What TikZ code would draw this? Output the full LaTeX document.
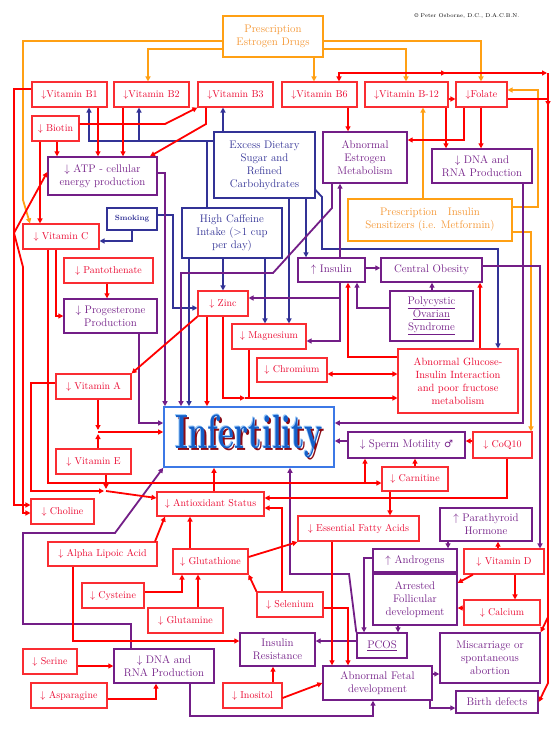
\documentclass[tikz,border=0pt]{standalone}
\usepackage{fontspec}
\newfontfamily\dejavu{DejaVu Sans}
\usepackage{graphicx}
\usetikzlibrary{arrows.meta}
\definecolor{rline}{RGB}{255,0,0}
\definecolor{rbord}{RGB}{250,45,50}
\definecolor{rtext}{RGB}{235,10,50}
\definecolor{purp}{RGB}{115,30,135}
\definecolor{blu}{RGB}{50,50,150}
\definecolor{org}{RGB}{255,160,20}
\definecolor{otext}{RGB}{245,150,50}
\definecolor{infb}{RGB}{60,120,230}
\definecolor{infd}{RGB}{140,10,20}
\definecolor{infl}{RGB}{150,200,250}
\definecolor{infm}{RGB}{20,95,200}
\newcommand\bx[7]{\node[#6,minimum width={#4pt-#2pt},minimum height={#5pt-#3pt}] (#1) at ({(#2+#4)/2},{(#3+#5)/2}) {#7};}
\newcommand\dn{$\downarrow$}
\newcommand\upa{$\uparrow$}
\newcommand\infword{\scalebox{1}[1.55]{Infertility}}
\begin{document}
\begin{tikzpicture}[x=1pt,y=-1pt,>={Triangle[length=5pt,width=5pt]},
 box/.style={inner sep=0pt,align=center,fill=white},
 rbox/.style={box,draw=rbord,line width=1.1pt,text=rtext,font=\fontsize{10}{12}\selectfont},
 pbox/.style={box,draw=purp,line width=1.4pt,text=purp,font=\fontsize{11}{13}\selectfont},
 bbox/.style={box,draw=blu,line width=1.1pt,text=blu,font=\fontsize{11}{13}\selectfont},
 obox/.style={box,draw=org,line width=1.4pt,text=otext,font=\fontsize{11}{13}\selectfont},
 rl/.style={draw=rline,line width=1.8pt},
 pl/.style={draw=purp,line width=1.8pt},
 bl/.style={draw=blu,line width=1.8pt},
 ol/.style={draw=org,line width=1.8pt}]
\useasboundingbox[fill=white] (0,0) rectangle (559,729);
% ---------- nodes ----------
\node[font=\fontsize{5.5}{6}\selectfont] (copy) at (467,16) {\textcopyright\ Peter Osborne, D.C., D.A.C.B.N.};
\bx{ped}{223}{16}{323}{57}{obox}{Prescription\\Estrogen Drugs}
\bx{b1}{32}{82}{107}{107}{rbox}{\dn Vitamin B1}
\bx{b2}{114}{82}{189}{107}{rbox}{\dn Vitamin B2}
\bx{b3}{198}{82}{273}{107}{rbox}{\dn Vitamin B3}
\bx{b6}{282}{82}{357}{107}{rbox}{\dn Vitamin B6}
\bx{b12}{365}{82}{448}{107}{rbox}{\dn Vitamin B-12}
\bx{fol}{456}{82}{507}{107}{rbox}{\dn Folate}
\bx{bio}{32}{116}{79}{141}{rbox}{\dn\ Biotin}
\bx{atp}{48}{157}{157}{195}{pbox}{\dn\ ATP - cellular\\energy production}
\bx{sug}{214}{132}{315}{198}{bbox}{Excess Dietary\\Sugar and\\Refined\\Carbohydrates}
\bx{aem}{323}{132}{407}{183}{pbox}{Abnormal\\Estrogen\\Metabolism}
\bx{dna1}{432}{149}{532}{183}{pbox}{\dn\ DNA and\\RNA Production}
\bx{smk}{107}{208}{157}{230}{bbox,font=\bfseries\fontsize{7.5}{9}\selectfont}{Smoking}
\bx{vc}{23}{224}{99}{249}{rbox}{\dn\ Vitamin C}
\bx{caf}{182}{208}{282}{258}{bbox}{High Caffeine\\Intake (>1 cup\\per day)}
\bx{met}{348}{199}{512}{241}{obox}{Prescription\ \ \ Insulin\\Sensitizers (i.e. Metformin)}
\bx{pan}{64}{258}{153}{283}{rbox}{\dn\ Pantothenate}
\bx{pro}{64}{299}{157}{333}{pbox}{\dn\ Progesterone\\Production}
\bx{ins}{298}{258}{365}{282}{pbox}{\upa\ Insulin}
\bx{cob}{381}{258}{482}{282}{pbox}{Central Obesity}
\bx{poly}{390}{291}{473}{341}{pbox}{\underline{Polycystic}\\\underline{Ovarian}\\\underline{Syndrome}}
\bx{zn}{198}{291}{248}{316}{rbox}{\dn\ Zinc}
\bx{mg}{232}{324}{306}{349}{rbox}{\dn\ Magnesium}
\bx{cr}{257}{358}{327}{382}{rbox}{\dn\ Chromium}
\bx{agi}{398}{349}{518}{413}{rbox,font=\fontsize{10.5}{13}\selectfont}{Abnormal Glucose-\\Insulin Interaction\\and poor fructose\\metabolism}
\bx{va}{56}{374}{131}{399}{rbox}{\dn\ Vitamin A}
\bx{inf}{164}{407}{334}{467}{box,draw=infb,line width=1.6pt,font=\bfseries\fontsize{31}{31}\selectfont}{%
\rlap{\hspace{2pt}\raisebox{-2pt}{\color{infd}\infword}}%
\rlap{\hspace{-0.8pt}\raisebox{0.8pt}{\color{infl}\infword}}%
{\color{infm}\infword}}
\bx{ve}{56}{449}{131}{474}{rbox}{\dn\ Vitamin E}
\bx{spm}{348}{432}{465}{458}{pbox}{\dn\ Sperm Motility {\dejavu\fontsize{10}{12}\selectfont ♂}}
\bx{coq}{473}{432}{532}{458}{rbox}{\dn\ CoQ10}
\bx{car}{382}{467}{448}{491}{rbox}{\dn\ Carnitine}
\bx{cho}{31}{499}{94}{524}{rbox}{\dn\ Choline}
\bx{aox}{157}{492}{264}{516}{rbox}{\dn\ Antioxidant Status}
\bx{efa}{298}{516}{419}{541}{rbox}{\dn\ Essential Fatty Acids}
\bx{pth}{440}{508}{532}{541}{pbox}{\upa\ Parathyroid\\Hormone}
\bx{ala}{48}{542}{157}{566}{rbox}{\dn\ Alpha Lipoic Acid}
\bx{glu}{173}{549}{248}{574}{rbox}{\dn\ Glutathione}
\bx{andr}{373}{549}{457}{572}{pbox}{\upa\ Androgens}
\bx{vd}{464}{549}{544}{574}{rbox}{\dn\ Vitamin D}
\bx{af}{373}{574}{457}{625}{pbox}{Arrested\\Follicular\\development}
\bx{cys}{82}{583}{144}{608}{rbox}{\dn\ Cysteine}
\bx{sel}{257}{592}{323}{617}{rbox}{\dn\ Selenium}
\bx{gln}{148}{608}{223}{633}{rbox}{\dn\ Glutamine}
\bx{ca}{464}{600}{540}{625}{rbox}{\dn\ Calcium}
\bx{ir}{240}{633}{315}{666}{pbox}{Insulin\\Resistance}
\bx{pcos}{357}{633}{407}{658}{pbox}{\underline{PCOS}}
\bx{mis}{440}{633}{540}{683}{pbox}{Miscarriage or\\spontaneous\\abortion}
\bx{ser}{23}{649}{77}{674}{rbox}{\dn\ Serine}
\bx{dna2}{114}{649}{214}{683}{pbox}{\dn\ DNA and\\RNA Production}
\bx{afd}{323}{666}{432}{700}{pbox}{Abnormal Fetal\\development}
\bx{asp}{31}{683}{107}{708}{rbox}{\dn\ Asparagine}
\bx{ino}{223}{683}{282}{708}{rbox}{\dn\ Inositol}
\bx{bd}{456}{691}{538}{713}{pbox}{Birth defects}
% ---------- orange ----------
\draw[ol,->] (ped.west|-0,41) -- (23,41) -- (23,200) -- (30,0|-vc.north);
\draw[ol,->] (ped.west|-0,49) -- (148,49) -- (148,0|-b2.north);
\draw[ol,->] (314,0|-ped.south) -- (314,0|-b6.north);
\draw[ol,->] (ped.east|-0,49) -- (406,49) -- (406,0|-b12.north);
\draw[ol,->] (ped.east|-0,41) -- (481,41) -- (481,0|-fol.north);
\draw[ol,->] (423,0|-met.north) -- (423,0|-b12.south);
\draw[ol,->] (met.east|-0,207) -- (538,207) -- (538,90) -- (fol.east|-0,90);
\draw[ol,->] (met.east|-0,232) -- (531,232) -- (531,0|-coq.north);
% ---------- red top ----------
\draw[rl,<-] (339,0|-b6.north) -- (339,73) -- (444,73);
\draw[rl,->] (444,73) -- (446,73);
\draw[rl,->] (444,73) -- (547,73);
\draw[rl,->] (548,73) -- (548,617) -- (mis.north east);
\draw[rl,->] (548,617) -- (548,683) -- (bd.east);
\draw[rl,->] (fol.east|-0,99) -- (548,99) -- (548,106);
\draw[rl,->] (b12.east|-0,99) -- (fol.west|-0,99);
\draw[rl,->] (464,0|-fol.south) -- (464,140) -- (aem.east|-0,140);
\draw[rl,->] (446,0|-b12.south) -- (446,0|-dna1.north);
\draw[rl,->] (481,0|-fol.south) -- (481,0|-dna1.north);
\draw[rl,->] (348,0|-b6.south) -- (348,0|-aem.north);
% ---------- blue ----------
\draw[bl,->] (223,0|-sug.north) -- (223,0|-b3.south);
\draw[bl] (207,0|-caf.north) -- (207,141);
\draw[bl,->] (sug.west|-0,141) -- (89,141) -- (89,0|-b1.south);
\draw[bl,->] (139,141) -- (139,0|-b2.south);
\draw[bl,->] (306,0|-sug.south) -- (306,0|-ins.north);
\draw[bl,->] (289,0|-sug.south) -- (289,0|-mg.north);
\draw[bl,->] (sug.east|-0,190) -- (322,197) -- (322,249) -- (498,249) -- (498,0|-agi.north);
\draw[bl,->] (223,0|-caf.south) -- (223,0|-zn.north);
\draw[bl,->] (265,0|-caf.south) -- (265,0|-mg.north);
\draw[bl,->] (189,0|-caf.south) -- (189,0|-inf.north);
\draw[bl,->] (smk.east|-0,215) -- (173,215) -- (173,308) -- (zn.west|-0,308);
\draw[bl,->] (132,0|-smk.south) -- (132,241) -- (vc.east|-0,241);
% ---------- purple ----------
\draw[pl,->] (atp.east|-0,173) -- (165,173) -- (165,0|-inf.north);
\draw[pl,->] (332,0|-aem.south) -- (332,208) -- (273,273) -- (181,273) -- (181,0|-inf.north);
\draw[pl,->] (340,0|-ins.north) -- (340,0|-aem.south);
\draw[pl,->] (ins.east|-0,268) -- (cob.west|-0,268);
\draw[pl,->] (432,0|-poly.north) -- (432,0|-cob.south);
\draw[pl,->] (poly.west|-0,308) -- (357,308) -- (357,0|-ins.south);
\draw[pl,->] (340,0|-ins.south) -- (340,341) -- (mg.east|-0,341);
\draw[pl,->] (340,298) -- (zn.east|-0,298);
\draw[pl,->] (523,0|-dna1.south) -- (523,423) -- (inf.east|-0,423);
\draw[pl,->] (cob.east|-0,266) -- (540,266) -- (540,0|-vd.north);
\draw[pl,->] (spm.west|-0,441) -- (inf.east|-0,441);
\draw[pl,->] (139,0|-pro.south) -- (139,423) -- (inf.west|-0,423);
\draw[pl,->] (131,0|-dna2.north) -- (131,624) -- (23,624) -- (23,533) -- (115,533) -- (inf.south west);
\draw[pl,->] (pcos.north west) -- (349,574) -- (290,574) -- (290,0|-inf.south);
\draw[pl,->] (andr.west|-0,558) -- (364,558) -- (364,0|-pcos.north);
\draw[pl,->] (398,0|-af.south) -- (398,0|-pcos.north);
\draw[pl,->] (pcos.west|-0,641) -- (ir.east|-0,641);
\draw[pl,->] (448,0|-pth.south) -- (448,0|-andr.north);
\draw[pl,->] (afd.east|-0,674) -- (mis.west|-0,674);
\draw[pl,->] (430,0|-afd.south) -- (430,708) -- (bd.west|-0,708);
\draw[pl,->] (190,0|-dna2.south) -- (190,716) -- (373,716) -- (373,0|-afd.south);
% ---------- red ----------
\draw[rl,->] (b1.west|-0,89) -- (14,89) -- (14,505) -- (cho.west|-0,505);
\draw[rl,<->] (cho.west|-0,513) -- (23,513) -- (23,267) -- (14,233) -- (atp.west|-0,172);
\draw[rl,->] (57,0|-bio.south) -- (57,0|-atp.north);
\draw[rl,->] (40,0|-bio.south) -- (40,0|-vc.north);
\draw[rl,->] (bio.east|-0,124) -- (165,124) -- (b3.south west);
\draw[rl,->] (98,0|-b1.south) -- (98,0|-atp.north);
\draw[rl,->] (123,0|-b2.south) -- (123,0|-atp.north);
\draw[rl,->] (206,0|-b3.south) -- (206,124) -- (150,0|-atp.north);
\draw[rl,->] (56,0|-vc.south) -- (56,316) -- (pro.west|-0,316);
\draw[rl,->] (107,0|-pan.south) -- (107,0|-pro.north);
\draw[rl,->] (48,0|-vc.south) -- (48,483) -- (car.west|-0,483);
\draw[rl,->] (365,483) -- (365,0|-spm.south);
\draw[rl,->] (va.west|-0,383) -- (31,383) -- (31,491) -- (104,491);
\draw[rl,->] (106,0|-ve.south) -- (106,489);
\draw[rl,->] (106,491) -- (aox.west|-0,498);
\draw[rl,->] (98,0|-va.south) -- (98,430);
\draw[rl,->] (98,0|-ve.north) -- (98,434);
\draw[rl,->] (98,432) -- (inf.west|-0,432);
\draw[rl,->] (zn.south west) -- (va.north east);
\draw[rl,->] (207,0|-zn.south) -- (207,0|-inf.north);
\draw[rl,->] (223,0|-zn.south) -- (223,398) -- (245,398);
\draw[rl,->] (245,398) -- (agi.west|-0,398);
\draw[rl] (249,0|-mg.south) -- (249,398);
\draw[rl,<->] (cr.east|-0,374) -- (agi.west|-0,374);
\draw[rl,->] (agi.west|-0,357) -- (348,357) -- (348,0|-ins.south);
\draw[rl,->] (480,0|-agi.north) -- (480,0|-cob.south);
\draw[rl,->] (coq.west|-0,441) -- (spm.east|-0,441);
\draw[rl,->] (507,0|-coq.south) -- (507,498) -- (aox.east|-0,498);
\draw[rl,->] (415,0|-car.north) -- (415,0|-spm.south);
\draw[rl,->] (390,0|-car.south) -- (390,0|-efa.north);
\draw[rl,->] (214,0|-aox.north) -- (214,0|-inf.south);
\draw[rl,->] (155,0|-ala.north) -- (165,0|-aox.south);
\draw[rl,->] (73,0|-ala.south) -- (73,641) -- (ir.west|-0,641);
\draw[rl,->] (190,0|-glu.north) -- (190,0|-aox.south);
\draw[rl,->] (glu.east|-0,557) -- (efa.west|-0,542);
\draw[rl,->] (cys.east|-0,592) -- (182,592) -- (182,0|-glu.south);
\draw[rl,->] (198,0|-gln.north) -- (198,0|-glu.south);
\draw[rl,->] (sel.north west) -- (glu.south east);
\draw[rl,->] (282,0|-sel.north) -- (282,508) -- (aox.east|-0,508);
\draw[rl,->] (sel.east|-0,608) -- (348,608) -- (348,0|-afd.north);
\draw[rl,->] (332,0|-efa.south) -- (332,0|-afd.north);
\draw[rl,->] (273,0|-ino.north) -- (273,0|-ir.south);
\draw[rl,->] (ino.east|-0,698) -- (afd.west|-0,683);
\draw[rl,->] (ser.east|-0,666) -- (dna2.west|-0,666);
\draw[rl,->] (asp.east|-0,699) -- (156,699) -- (156,0|-dna2.south);
\draw[rl,->] (473,0|-vd.south) -- (af.east|-0,583);
\draw[rl,->] (515,0|-vd.south) -- (515,0|-ca.north);
\draw[rl,->] (ca.west|-0,608) -- (af.east|-0,608);
\draw[rl,->] (498,0|-vd.north) -- (498,0|-pth.south);
\end{tikzpicture}
\end{document}
